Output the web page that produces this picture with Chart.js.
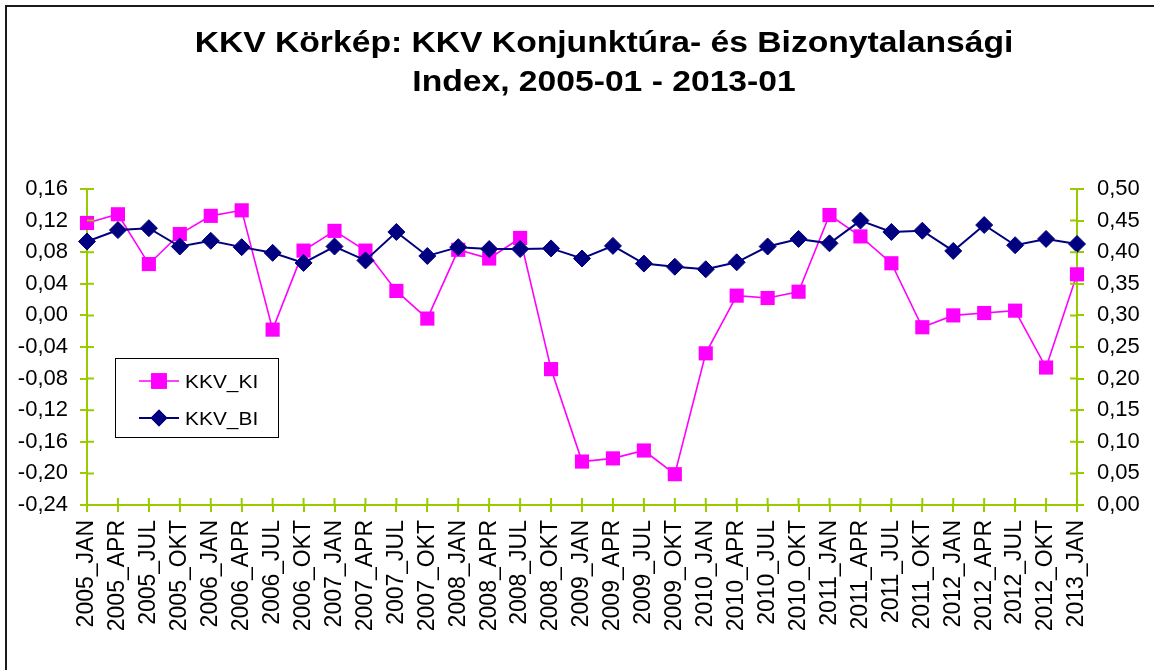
<!DOCTYPE html>
<html>
<head>
<meta charset="utf-8">
<script src="https://cdn.jsdelivr.net/npm/chart.js@4/dist/chart.umd.min.js"></script>
<style>
  html, body { margin: 0; padding: 0; background: #fff; overflow: hidden; }
  #wrap { position: relative; width: 1154px; height: 670px; overflow: hidden; }
  #frame { position: absolute; left: 5px; top: 5px; width: 2000px; height: 2000px;
           border-top: 2px solid #1a1a1a; border-left: 2px solid #1a1a1a; box-sizing: border-box; }
  canvas { position: absolute; left: 0; top: 0; }
</style>
</head>
<body>
<div id="wrap">
  <div id="frame"></div>
  <canvas id="c" width="1154" height="670"></canvas>
</div>
<script>
const titleLines = ["KKV Körkép: KKV Konjunktúra- és Bizonytalansági", "Index, 2005-01 - 2013-01"];

const categories = [
  "2005_JAN","2005_APR","2005_JUL","2005_OKT",
  "2006_JAN","2006_APR","2006_JUL","2006_OKT",
  "2007_JAN","2007_APR","2007_JUL","2007_OKT",
  "2008_JAN","2008_APR","2008_JUL","2008_OKT",
  "2009_JAN","2009_APR","2009_JUL","2009_OKT",
  "2010_JAN","2010_APR","2010_JUL","2010_OKT",
  "2011_JAN","2011_APR","2011_JUL","2011_OKT",
  "2012_JAN","2012_APR","2012_JUL","2012_OKT",
  "2013_JAN"
];

const kkvKI = [
  0.117, 0.128, 0.065, 0.103,
  0.126, 0.133, -0.018, 0.082,
  0.107, 0.082, 0.031, -0.004,
  0.083, 0.072, 0.098, -0.068,
  -0.185, -0.181, -0.171, -0.201,
  -0.048, 0.025, 0.022, 0.030,
  0.127, 0.100, 0.066, -0.015,
  0.000, 0.003, 0.006, -0.066,
  0.052
];

const kkvBI = [
  0.417, 0.435, 0.438, 0.409,
  0.418, 0.408, 0.399, 0.383,
  0.409, 0.387, 0.432, 0.394,
  0.408, 0.405, 0.405, 0.406,
  0.390, 0.410, 0.382, 0.377,
  0.373, 0.384, 0.409, 0.421,
  0.414, 0.450, 0.432, 0.434,
  0.402, 0.443, 0.411, 0.421,
  0.413
];

const leftTicks = { min: -0.24, max: 0.16, step: 0.04 };
const rightTicks = { min: 0.00, max: 0.50, step: 0.05 };

const AXIS_GREEN = '#99CC00';
const MAGENTA = '#FF00FF';
const NAVY = '#000080';
const fmt = v => (Math.abs(v) < 1e-9 ? 0 : v).toFixed(2).replace('.', ',');

function scaledText(ctx, text, x, y, font, sx, align) {
  ctx.save();
  ctx.font = font;
  ctx.textBaseline = 'alphabetic';
  const w = ctx.measureText(text).width * sx;
  let left = x;
  if (align === 'center') left = x - w / 2;
  ctx.translate(left, y);
  ctx.scale(sx, 1);
  ctx.textAlign = 'left';
  ctx.fillText(text, 0, 0);
  ctx.restore();
}

const decorPlugin = {
  id: 'decor',
  afterDraw(chart) {
    const ctx = chart.ctx;
    const area = chart.chartArea;
    // inner halves of the crossing tick marks
    ctx.save();
    ctx.strokeStyle = AXIS_GREEN;
    ctx.lineWidth = 2;
    const yl = chart.scales.y, yr = chart.scales.y1, xs = chart.scales.x;
    ctx.beginPath();
    yl.ticks.forEach((t, i) => { const p = yl.getPixelForTick(i); ctx.moveTo(area.left, p); ctx.lineTo(area.left + 7, p); });
    yr.ticks.forEach((t, i) => { const p = yr.getPixelForTick(i); ctx.moveTo(area.right - 7, p); ctx.lineTo(area.right, p); });
    xs.ticks.forEach((t, i) => { const p = xs.getPixelForTick(i); ctx.moveTo(p, area.bottom - 7); ctx.lineTo(p, area.bottom); });
    ctx.stroke();
    ctx.restore();

    // title
    ctx.save();
    ctx.fillStyle = '#000';
    scaledText(ctx, titleLines[0], 604, 52, 'bold 29px "Liberation Sans", Arial, sans-serif', 1.16, 'center');
    scaledText(ctx, titleLines[1], 604, 91, 'bold 29px "Liberation Sans", Arial, sans-serif', 1.16, 'center');
    ctx.restore();

    // legend
    const lx = 115, ly = 358, lw = 163, lh = 79;
    ctx.save();
    ctx.fillStyle = '#fff';
    ctx.fillRect(lx, ly, lw, lh);
    ctx.strokeStyle = '#000';
    ctx.lineWidth = 1;
    ctx.strokeRect(lx + 0.5, ly + 0.5, lw, lh);
    const rows = [{ ds: chart.data.datasets[0], y: 381 }, { ds: chart.data.datasets[1], y: 418 }];
    rows.forEach(r => {
      ctx.strokeStyle = r.ds.borderColor;
      ctx.lineWidth = r.ds.borderWidth;
      ctx.beginPath();
      ctx.moveTo(139, r.y); ctx.lineTo(179, r.y);
      ctx.stroke();
      Chart.helpers.drawPoint(ctx, {
        pointStyle: r.ds.pointStyle,
        radius: r.ds.pointStyle === 'rect' ? 10 : 7,
        borderWidth: 1,
        rotation: 0
      }, 159, r.y);
      ctx.fillStyle = r.ds.pointBackgroundColor;
      ctx.strokeStyle = r.ds.pointBorderColor;
      ctx.fill();
      ctx.stroke();
      ctx.fillStyle = '#000';
      scaledText(ctx, r.ds.label, 185, r.y + 7, '19px "Liberation Sans", Arial, sans-serif', 1.1, 'left');
    });
    ctx.restore();
  }
};

new Chart(document.getElementById('c'), {
  type: 'line',
  data: {
    labels: categories,
    datasets: [
      {
        label: 'KKV_KI',
        data: kkvKI,
        yAxisID: 'y',
        borderColor: MAGENTA,
        borderWidth: 1.6,
        pointStyle: 'rect',
        pointRadius: 10,
        pointBackgroundColor: MAGENTA,
        pointBorderColor: MAGENTA,
        pointBorderWidth: 0,
        tension: 0,
        order: 1
      },
      {
        label: 'KKV_BI',
        data: kkvBI,
        yAxisID: 'y1',
        borderColor: NAVY,
        borderWidth: 2,
        pointStyle: 'rectRot',
        pointRadius: 8.5,
        pointBackgroundColor: NAVY,
        pointBorderColor: NAVY,
        pointBorderWidth: 1,
        tension: 0,
        order: 0
      }
    ]
  },
  options: {
    responsive: false,
    animation: false,
    devicePixelRatio: 1,
    layout: { padding: { top: 189, left: 0, right: 0, bottom: 0 } },
    plugins: {
      legend: { display: false },
      title: { display: false },
      tooltip: { enabled: false }
    },
    scales: {
      x: {
        type: 'category',
        offset: false,
        grid: { display: true, drawOnChartArea: false, drawTicks: true, tickLength: 7, color: AXIS_GREEN, lineWidth: 2 },
        border: { display: true, color: AXIS_GREEN, width: 2 },
        ticks: {
          autoSkip: false, minRotation: 90, maxRotation: 90, padding: 8,
          color: '#000', font: { family: '"Liberation Sans", Arial, sans-serif', size: 23 }
        },
        afterFit(s) { s.height = 670 - 505; }
      },
      y: {
        position: 'left',
        min: leftTicks.min, max: leftTicks.max,
        grid: { display: true, drawOnChartArea: false, drawTicks: true, tickLength: 7, color: AXIS_GREEN, lineWidth: 2 },
        border: { display: true, color: AXIS_GREEN, width: 2 },
        ticks: {
          stepSize: leftTicks.step, padding: 12, color: '#000',
          font: { family: '"Liberation Sans", Arial, sans-serif', size: 22 },
          callback: v => fmt(v)
        },
        afterFit(s) { s.width = 87; }
      },
      y1: {
        position: 'right',
        min: rightTicks.min, max: rightTicks.max,
        grid: { display: true, drawOnChartArea: false, drawTicks: true, tickLength: 7, color: AXIS_GREEN, lineWidth: 2 },
        border: { display: true, color: AXIS_GREEN, width: 2 },
        ticks: {
          stepSize: rightTicks.step, padding: 13, color: '#000',
          font: { family: '"Liberation Sans", Arial, sans-serif', size: 22 },
          callback: v => fmt(v)
        },
        afterFit(s) { s.width = 1154 - 1077; }
      }
    }
  },
  plugins: [decorPlugin]
});
</script>
</body>
</html>
